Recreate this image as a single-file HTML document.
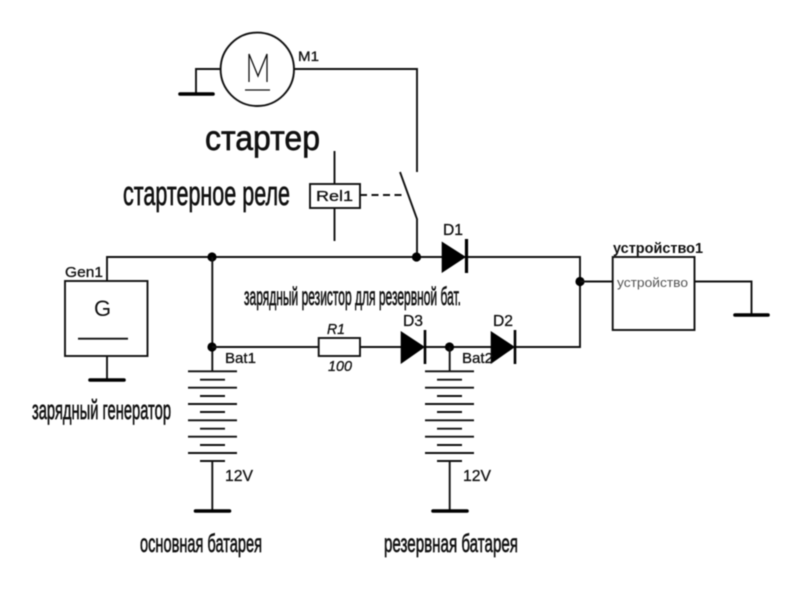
<!DOCTYPE html>
<html><head><meta charset="utf-8"><style>
html,body{margin:0;padding:0;background:#fff}
svg{display:block;filter:blur(.4px)}
text{font-family:"Liberation Sans","DejaVu Sans",sans-serif;fill:#111}
.s{stroke:#111;stroke-width:.3}
.c{stroke:#111;stroke-width:.65}
.w{fill:none;stroke:#111;stroke-width:1.9}
.g{stroke:#000;stroke-width:3.6;stroke-linecap:round}
.j{fill:#000}
</style></head><body>
<svg width="800" height="592" viewBox="0 0 800 592" xmlns="http://www.w3.org/2000/svg">
<rect width="800" height="592" fill="#fff"/>
<!-- motor -->
<circle class="w" cx="257.3" cy="69.3" r="36.7"/>
<path class="w" d="M221 69H196V94"/>
<line class="g" x1="180" y1="94" x2="213" y2="94"/>
<path class="w" d="M249 82V54L258 76L267 54V82M245 90H270" style="stroke-width:1.3"/>
<path class="w" d="M294 69H417V172"/>
<text class="s" x="298" y="61" font-size="14" textLength="21" lengthAdjust="spacingAndGlyphs">M1</text>
<text class="c" x="205" y="150" font-size="35" textLength="115" lengthAdjust="spacingAndGlyphs">стартер</text>
<!-- relay -->
<text class="c" x="123" y="205" font-size="34" textLength="167" lengthAdjust="spacingAndGlyphs">стартерное реле</text>
<rect class="w" x="310" y="184" width="50" height="24"/>
<text class="s" x="316" y="201" font-size="15" textLength="37" lengthAdjust="spacingAndGlyphs">Rel1</text>
<path class="w" d="M334.5 151V184M334.5 208V241"/>
<path class="w" d="M360 195H406" stroke-dasharray="7 4.5"/>
<path class="w" d="M400 172L417 219V257"/>
<!-- main rail -->
<path class="w" d="M107 281V257H580V347H515"/>
<circle class="j" cx="212" cy="257" r="4.6"/>
<circle class="j" cx="416.5" cy="257" r="4.6"/>
<circle class="j" cx="580" cy="281.5" r="4.6"/>
<!-- generator -->
<text class="s" x="65" y="277" font-size="15" textLength="38" lengthAdjust="spacingAndGlyphs">Gen1</text>
<rect class="w" x="65" y="281" width="82.5" height="75"/>
<text x="94" y="316" font-size="22">G</text>
<path class="w" d="M78 338.7H128"/>
<path class="w" d="M107 356V380"/>
<line class="g" x1="90" y1="380" x2="124" y2="380"/>
<text class="c" x="32" y="419" font-size="27" textLength="139" lengthAdjust="spacingAndGlyphs">зарядный генератор</text>
<!-- battery 1 -->
<path class="w" d="M212.3 257V371.3"/>
<circle class="j" cx="212" cy="347" r="4.6"/>
<path class="w" d="M212 347H319M360 347H401M425 347H491"/>
<text class="s" x="225" y="363" font-size="15" textLength="31" lengthAdjust="spacingAndGlyphs">Bat1</text>
<path class="w" d="M188 371.3H237M200 379.7H225M188 387.7H237M200 396H225M188 404H237M200 412H225M188 420.3H237M200 428.7H225M188 436.7H237M200 445H225M188 453H237M200 461H225M212.3 461V511"/>
<line class="g" x1="195.5" y1="511" x2="229.5" y2="511"/>
<text class="s" x="225" y="481" font-size="16" textLength="28" lengthAdjust="spacingAndGlyphs">12V</text>
<text class="c" x="140" y="552" font-size="25" textLength="122" lengthAdjust="spacingAndGlyphs">основная батарея</text>
<!-- resistor -->
<rect class="w" x="318.7" y="338" width="41.3" height="18"/>
<text class="s" x="327" y="334" font-size="15" font-style="italic" textLength="18" lengthAdjust="spacingAndGlyphs">R1</text>
<text class="s" x="328" y="371" font-size="15" font-style="italic" textLength="24" lengthAdjust="spacingAndGlyphs">100</text>
<text class="c" x="244" y="305" font-size="25" textLength="217" lengthAdjust="spacingAndGlyphs">зарядный резистор для резервной бат.</text>
<!-- diodes -->
<polygon points="441.7,241.5 441.7,273 466,257" fill="#000"/>
<path d="M466.5 239V273" stroke="#000" stroke-width="3.2"/>
<text class="s" x="443" y="235" font-size="16" textLength="20" lengthAdjust="spacingAndGlyphs">D1</text>
<polygon points="400.7,331 400.7,364 425,347" fill="#000"/>
<path d="M425 330V364" stroke="#000" stroke-width="2.6"/>
<text class="s" x="403" y="326" font-size="16" textLength="20" lengthAdjust="spacingAndGlyphs">D3</text>
<polygon points="490.7,331 490.7,364 515,347" fill="#000"/>
<path d="M515 330V364" stroke="#000" stroke-width="2.6"/>
<text class="s" x="493" y="326" font-size="16" textLength="20" lengthAdjust="spacingAndGlyphs">D2</text>
<!-- battery 2 -->
<circle class="j" cx="449.5" cy="347" r="4.6"/>
<text class="s" x="462" y="363" font-size="15" textLength="31" lengthAdjust="spacingAndGlyphs">Bat2</text>
<path class="w" d="M449.7 347V371.3M425 371.3H474M437 379.7H462M425 387.7H474M437 396H462M425 404H474M437 412H462M425 420.3H474M437 428.7H462M425 436.7H474M437 445H462M425 453H474M437 461H462M449.7 461V511"/>
<line class="g" x1="433" y1="511" x2="467" y2="511"/>
<text class="s" x="463" y="481" font-size="16" textLength="28" lengthAdjust="spacingAndGlyphs">12V</text>
<text class="c" x="384" y="552" font-size="25" textLength="134" lengthAdjust="spacingAndGlyphs">резервная батарея</text>
<!-- device -->
<text x="613" y="253" font-size="15" font-weight="bold" textLength="90" lengthAdjust="spacingAndGlyphs">устройство1</text>
<rect class="w" x="612.7" y="257" width="81.8" height="73"/>
<text x="617" y="287" font-size="13" textLength="71" lengthAdjust="spacingAndGlyphs" style="fill:#555">устройство</text>
<path class="w" d="M580 281.5H612.7M694.5 281.5H751.5V315"/>
<line class="g" x1="735" y1="315" x2="768" y2="315"/>
</svg>
</body></html>
